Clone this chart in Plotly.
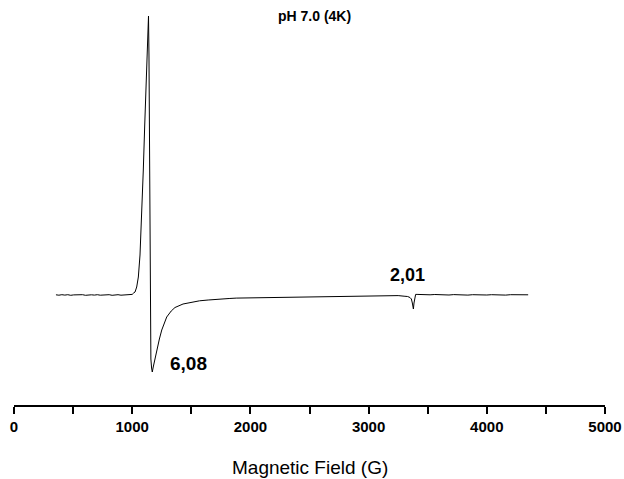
import plotly.graph_objects as go

field = [
    355, 380, 405, 430, 455, 480, 505, 530, 555, 580,
    605, 630, 655, 680, 705, 730, 755, 780, 805, 830,
    855, 880, 905, 930, 955, 980, 1000,
    1012, 1024, 1038, 1052, 1066, 1080, 1094, 1106, 1117, 1127,
    1134, 1138, 1142, 1147, 1150, 1152, 1158, 1164, 1170,
    1178, 1188, 1207, 1230, 1250, 1270, 1292, 1330, 1362, 1430,
    1503, 1570, 1643, 1700, 1757, 1820, 1880, 1940, 2000, 2060,
    2120, 2180, 2240, 2300, 2360, 2420, 2480, 2540, 2600, 2660,
    2720, 2780, 2840, 2900, 2960, 3020, 3080, 3140, 3200, 3250,
    3300, 3330, 3350, 3362, 3370, 3375, 3379, 3384, 3390, 3398,
    3410, 3440, 3480, 3520, 3560, 3600, 3640, 3680, 3720, 3760,
    3800, 3840, 3880, 3920, 3960, 4000, 4040, 4080, 4120, 4160,
    4200, 4240, 4280, 4320, 4350,
]

intensity = [
    0.2, -0.2, 0.3, -0.1, 0.3, -0.3, 0.1, 0.2, -0.2, 0.3,
    -0.3, 0.1, 0.2, -0.1, 0.3, -0.2, 0.2, -0.1, 0.3, -0.3,
    0.1, 0.3, -0.2, 0.2, -0.1, 0.3, 0.6,
    2, 3, 8, 18, 40, 75, 125, 170, 215, 250,
    272, 279, 240, 130, 20, -50, -64, -73, -77,
    -72, -66, -56, -44, -35, -28, -22, -16, -12.5, -9,
    -7, -5.8, -5, -4.3, -3.8, -3.5, -3.1, -3.0, -2.7, -2.5,
    -2.5, -2.2, -2.1, -1.8, -1.8, -1.5, -1.6, -1.3, -1.3, -1.1,
    -1.2, -0.9, -1.1, -0.8, -1.0, -0.7, -0.9, -0.6, -0.8, -0.6,
    -1.2, -1.5, -2.5, -4, -8, -12, -14, -8, -2, 0.6,
    0.6, 0.3, 0.5, 0.2, 0.5, 0.1, 0.4, 0.0, 0.4, 0.1,
    0.4, -0.1, 0.3, 0.1, 0.4, 0.0, 0.3, 0.0, 0.3, -0.1,
    0.3, 0.1, 0.3, 0.0, 0.2,
]

x_ticks = [0, 1000, 2000, 3000, 4000, 5000]
x_tick_labels = ["0", "1000", "2000", "3000", "4000", "5000"]

FONT = "Arial, Liberation Sans, sans-serif"

fig = go.Figure()
fig.add_trace(go.Scatter(
    x=field, y=intensity, mode="lines",
    line=dict(color="black", width=1),
    showlegend=False, hoverinfo="skip",
))

fig.update_layout(
    width=624, height=479,
    margin=dict(l=14, r=19, t=10, b=74, autoexpand=False),
    paper_bgcolor="white", plot_bgcolor="white",
    font=dict(family=FONT, color="black"),
    xaxis=dict(
        range=[0, 5000], automargin=False,
        showgrid=False, zeroline=False,
        showline=True, linecolor="black", linewidth=2,
        ticks="outside", ticklen=7, tickwidth=2, tickcolor="black",
        tickvals=x_ticks, ticktext=x_tick_labels,
        tickfont=dict(size=15, family=FONT, color="black", weight="bold"),
        minor=dict(ticks="outside", ticklen=7, tickwidth=2, tickcolor="black", dtick=500, tick0=0),
    ),
    yaxis=dict(
        range=[-110, 285], visible=False, automargin=False,
    ),
    annotations=[
        dict(text="Magnetic Field (G)", xref="paper", yref="paper", x=0.5, y=-0.157,
             xanchor="center", yanchor="middle", showarrow=False,
             font=dict(size=19, family=FONT, color="black")),
        dict(text="<b>pH 7.0 (4K)</b>", xref="x", yref="paper", x=2545, y=0.985,
             xanchor="center", yanchor="middle", showarrow=False,
             font=dict(size=14, family=FONT, color="black")),
        dict(text="<b>2,01</b>", xref="x", yref="y", x=3325, y=20,
             xanchor="center", yanchor="middle", showarrow=False,
             font=dict(size=18, family=FONT, color="black")),
        dict(text="<b>6,08</b>", xref="x", yref="y", x=1480, y=-68,
             xanchor="center", yanchor="middle", showarrow=False,
             font=dict(size=19, family=FONT, color="black")),
    ],
)

fig.write_html(
    "out.html",
    config={"displayModeBar": False},
    post_script="document.body.style.margin='0';document.body.style.overflow='hidden';",
)
